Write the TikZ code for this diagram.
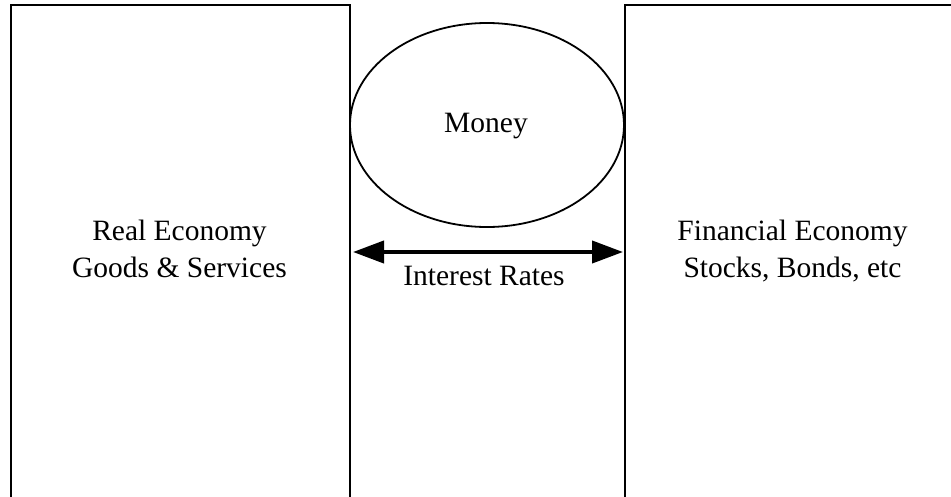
\documentclass[tikz,border=0pt]{standalone}
\usepackage{fontspec}
\setmainfont{Liberation Serif}
\usetikzlibrary{arrows.meta,shapes.geometric}
\begin{document}
\begin{tikzpicture}[x=1pt,y=-1pt,
  box/.style={draw,line width=2pt,rectangle,inner sep=0pt},
  lbl/.style={font=\fontsize{29.5}{37}\selectfont,inner sep=0pt,align=center},
  link/.style={line width=4pt,{Triangle[length=31pt,width=22pt]}-{Triangle[length=31pt,width=22pt]},shorten <=2pt,shorten >=1pt}]
\useasboundingbox (0,0) rectangle (951,496);
\clip (0,0) rectangle (951,496);
\node[box,minimum width=339pt,minimum height=520pt,anchor=north west] (real) at (10,4) {};
\node[box,minimum width=339pt,minimum height=520pt,anchor=north west] (fin) at (624,4) {};
\node[draw,line width=1.8pt,ellipse,minimum width=274pt,minimum height=204pt,inner sep=0pt] (money) at (487,125) {};
\node[lbl,anchor=base] (moneyt) at (486,132) {Money};
\node[lbl,anchor=base] (realt) at (179.5,277) {Real Economy\\Goods \& Services};
\node[lbl,anchor=base] (fint) at (792.5,277) {Financial Economy\\Stocks, Bonds, etc};
\draw[link] (real.east |- 0,252) coordinate (a) -- (fin.west |- 0,252) coordinate (b);
\node[lbl,anchor=base] (rates) at (484,285) {Interest Rates};
\end{tikzpicture}
\end{document}
